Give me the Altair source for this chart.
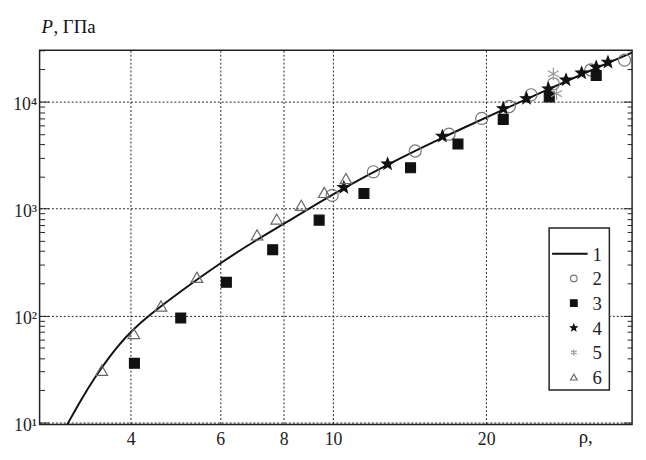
import math
import altair as alt
import pandas as pd

# ---- data (rho, P in GPa) ----
rho1 = [3.0, 3.2, 3.4, 3.6, 3.8, 4.0, 4.34, 5.0, 6.0, 7.0, 8.0, 9.0, 10.5, 12.8, 16.4, 21.6, 26.5, 30.8, 34.7, 38.7]
P1 = [9.5, 16.5, 26.3, 38.8, 53.7, 70.5, 100, 167, 310, 495, 720, 1010, 1560, 2600, 4620, 8450, 13100, 18000, 23000, 28800]

rho2 = [9.96, 12.0, 14.5, 16.9, 19.6, 22.2, 24.5, 27.1, 32.1, 37.4]
P2 = [1330, 2210, 3460, 4970, 6980, 9020, 11600, 14700, 19800, 24500]

rho3 = [4.07, 5.02, 6.17, 7.61, 9.39, 11.5, 14.2, 17.6, 21.6, 26.6, 32.9]
P3 = [35.8, 95, 205, 413, 781, 1387, 2410, 4020, 6840, 11100, 17600]

rho4 = [10.5, 12.8, 16.4, 21.6, 24.0, 26.5, 28.7, 30.8, 32.9, 34.7]
P4 = [1580, 2620, 4760, 8630, 10700, 13200, 16000, 18600, 21100, 23400]

rho5 = [27.1, 27.5]
P5 = [18200, 11900]

rho6 = [3.51, 4.06, 4.59, 5.40, 7.09, 7.75, 8.66, 9.61, 10.6]
P6 = [30.8, 67.8, 123, 228, 568, 798, 1074, 1417, 1910]

series = ["1", "2", "3", "4", "5", "6"]
x_ticks = [4, 6, 8, 10, 20]
y_major = [10, 100, 1000, 10000]

line_df = pd.DataFrame({"rho": rho1, "P": P1})
pts = pd.concat([
    pd.DataFrame({"rho": rho2, "P": P2, "series": "2"}),
    pd.DataFrame({"rho": rho3, "P": P3, "series": "3"}),
    pd.DataFrame({"rho": rho4, "P": P4, "series": "4"}),
    pd.DataFrame({"rho": rho5, "P": P5, "series": "5"}),
    pd.DataFrame({"rho": rho6, "P": P6, "series": "6"}),
], ignore_index=True)
pts["sz"] = "s" + pts["series"]
dummy = pd.DataFrame({"a": [0]})
leg_sym_df = pd.DataFrame({"series": series[1:], "row": list(range(1, len(series)))})
leg_lbl_df = pd.DataFrame({"series": series, "row": list(range(len(series)))})

# ---- styling ----
FONT = "Liberation Serif"
W, H = 600, 379
ymin, ymax = 9.58, 30270
y_minor = [v * 10 ** n for n in range(0, 5) for v in range(2, 10) if ymin <= v * 10 ** n <= ymax]

star_pts = []
for k in range(10):
    r = 1.0 if k % 2 == 0 else 0.42
    a = math.radians(-90 + 36 * k)
    star_pts.append(f"{r * math.cos(a):.3f},{r * math.sin(a):.3f}")
star = "M" + "L".join(star_pts) + "Z"
aster = "M0,-1L0,1M-0.87,-0.5L0.87,0.5M-0.87,0.5L0.87,-0.5"

shape_scale = alt.Scale(domain=series, range=["stroke", "circle", "square", star, aster, "triangle-up"])
fill_scale = alt.Scale(domain=series, range=["transparent", "transparent", "#111", "#111", "transparent", "transparent"])
stroke_scale = alt.Scale(domain=series, range=["#111", "#777", "#111", "#111", "#999", "#666"])
sz_domain = ["s2", "s3", "s4", "s5", "s6"]
size_range = [150, 100, 150, 160, 140]

xscale = alt.Scale(type="log", domain=[2.65, 38.7], nice=False)
yscale = alt.Scale(type="log", domain=[ymin, ymax], nice=False)
row_scale = alt.Scale(domain=[0, 5], range=[206, 331])

X = alt.X("rho:Q", scale=xscale, axis=alt.Axis(
    values=x_ticks, format="d", title=None, grid=True, gridDash=[2, 2], gridColor="#222",
    gridWidth=1, ticks=False, domain=False, labelFont=FONT, labelFontSize=18,
    labelColor="#222", labelPadding=6, labelFlush=False))

main_y = alt.Axis(
    values=y_major, title=None, grid=True, gridDash=[2, 2], gridColor="#222", gridWidth=1,
    ticks=False, domain=False, labelFont=FONT, labelFontSize=18, labelColor="#222",
    labelPadding=3, labelOffset=3,
    labelExpr="datum.value == 10 ? '10¹' : datum.value == 100 ? '10²' : datum.value == 1000 ? '10³' : '10⁴'")


def tick_axis(orient, vals, size):
    return alt.Axis(orient=orient, offset=-W, values=vals, tickSize=size, ticks=True,
                    labels=False, domain=False, grid=False, title=None,
                    tickColor="#222", tickWidth=1)


line = alt.Chart(line_df).mark_line(color="#111", strokeWidth=2, interpolate="basis", clip=True).encode(
    x=X, y=alt.Y("P:Q", scale=yscale, axis=main_y))

points = alt.Chart(pts).mark_point(opacity=1, strokeWidth=1.2).encode(
    x=X,
    y=alt.Y("P:Q", scale=yscale, axis=tick_axis("right", y_minor, 5)),
    shape=alt.Shape("series:N", scale=shape_scale, legend=None),
    fill=alt.Fill("series:N", scale=fill_scale, legend=None),
    stroke=alt.Stroke("series:N", scale=stroke_scale, legend=None),
    size=alt.Size("sz:N", scale=alt.Scale(type="ordinal", domain=sz_domain, range=size_range), legend=None),
)


def tick_layer(orient, vals, size):
    return alt.Chart(pts).mark_point(opacity=0).encode(
        x=X, y=alt.Y("P:Q", scale=yscale, axis=tick_axis(orient, vals, size)))


t1 = tick_layer("right", y_major, 9)
t2 = tick_layer("left", y_minor, 5)
t3 = tick_layer("left", y_major, 9)

# ---- legend (drawn as a framed key inside the plot) ----
leg_box = alt.Chart(dummy).mark_rect(fill="white", stroke="#222", strokeWidth=1.5).encode(
    x=alt.value(516), x2=alt.value(577), y=alt.value(180), y2=alt.value(344))
leg_line = alt.Chart(dummy).mark_rule(color="#111", strokeWidth=2).encode(
    x=alt.value(519), x2=alt.value(555), y=alt.value(206))
leg_syms = alt.Chart(leg_sym_df).mark_point(opacity=1, strokeWidth=1.2, size=45).encode(
    x=alt.value(541),
    y=alt.Y("row:Q", scale=row_scale, axis=None),
    shape=alt.Shape("series:N", scale=shape_scale, legend=None),
    fill=alt.Fill("series:N", scale=fill_scale, legend=None),
    stroke=alt.Stroke("series:N", scale=stroke_scale, legend=None),
)
leg_lbl = alt.Chart(leg_lbl_df).mark_text(align="left", baseline="middle", font=FONT, fontSize=19,
                                          color="#222", dy=1).encode(
    x=alt.value(560), y=alt.Y("row:Q", scale=row_scale, axis=None), text="series:N")

txtP = alt.Chart(dummy).mark_text(text="P", font=FONT, fontSize=19, fontStyle="italic",
                                  align="left", baseline="alphabetic", color="#111").encode(
    x=alt.value(2), y=alt.value(-18))
txtU = alt.Chart(dummy).mark_text(text=", ГПа", font=FONT, fontSize=19, align="left",
                                  baseline="alphabetic", color="#111").encode(
    x=alt.value(14), y=alt.value(-18))
txtRho = alt.Chart(dummy).mark_text(text="ρ,", font=FONT, fontSize=19, align="left",
                                    baseline="alphabetic", color="#111").encode(
    x=alt.value(546), y=alt.value(398))

chart = alt.layer(
    line, points, t1, t2, t3, leg_box, leg_line, leg_syms, leg_lbl, txtP, txtU, txtRho
).resolve_scale(
    y="independent"
).resolve_axis(
    y="independent"
).properties(
    width=W, height=H,
    autosize=alt.AutoSizeParams(type="none"),
    padding={"left": 32, "top": 40, "right": 6, "bottom": 24},
    background="white",
).configure_view(stroke="#222", strokeWidth=1.5)

chart.save("out.html", embed_options={"renderer": "svg", "actions": False})
